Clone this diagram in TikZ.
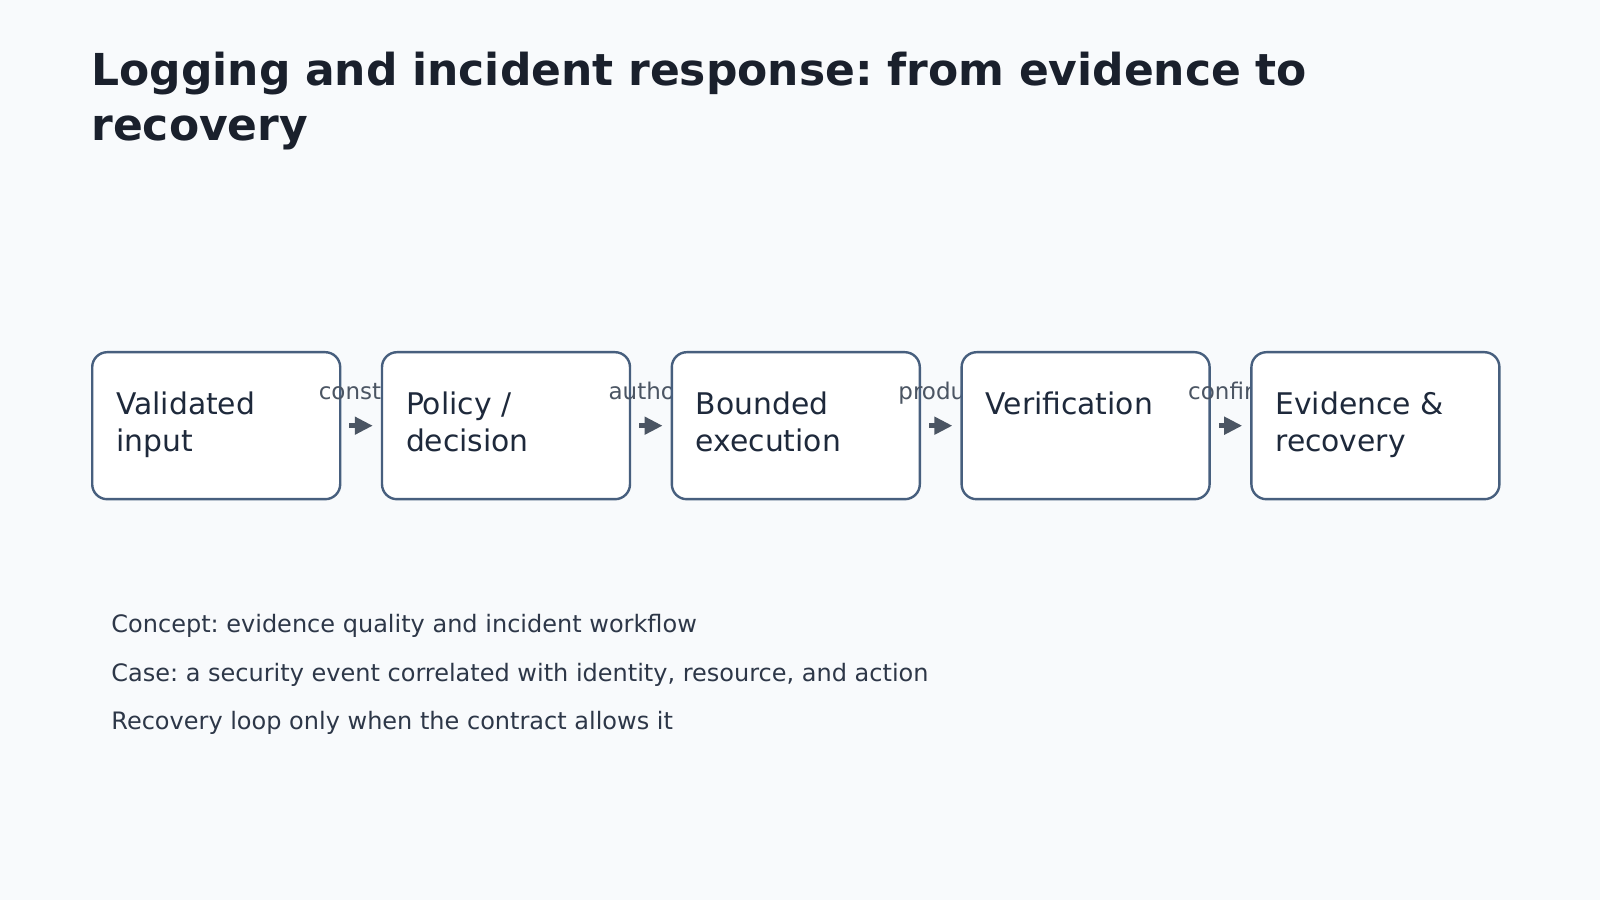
\documentclass[tikz,border=0pt]{standalone}
\usepackage{fontspec}
\setmainfont{DejaVu Sans}
\usepackage{tikz}
\usetikzlibrary{arrows.meta,shapes,positioning}

\definecolor{pagebg}{HTML}{F8FAFC}
\definecolor{titleink}{HTML}{1A202C}
\definecolor{boxline}{HTML}{475F7E}
\definecolor{boxink}{HTML}{1E293B}
\definecolor{labelink}{HTML}{4B5563}
\definecolor{noteink}{HTML}{2D3748}

\tikzset{
  stagebox/.style={draw=boxline, line width=1.2pt, fill=white, rounded corners=7.5pt,
    inner xsep=12pt, inner ysep=0pt, text width=100pt, align=left,
    text height=31pt, text depth=42.5pt, text=boxink,
    font=\fontsize{14.9}{18.7}\selectfont},
  flowlabel/.style={anchor=base west, inner sep=0pt, text=labelink,
    font=\fontsize{11.5}{13}\selectfont},
  flowarrow/.style={draw=labelink, line width=2.6pt,
    -{Triangle[length=9pt,width=8.5pt]}, shorten <=4pt, shorten >=4pt},
  notetext/.style={anchor=base west, inner sep=0pt, text=noteink,
    font=\fontsize{12}{14}\selectfont}
}

\begin{document}
\frenchspacing
\begin{tikzpicture}[x=1pt,y=1pt]

\fill [pagebg] (0,0) rectangle (800,450);
\useasboundingbox (0,0) rectangle (800,450);

\node[anchor=base west, inner sep=0pt, text width=720pt, align=left, text=titleink,
  font=\fontsize{22}{27.5}\selectfont\bfseries] (title) at (45.5,407)
  {Logging and incident response: from evidence to\\recovery};

\node[stagebox, anchor=north west] (input) at (45.5,274.5) {Validated\\input};
\node[flowlabel] (lab1) at ([xshift=-11.5pt,yshift=13.25pt]input.east) {constrains};
\node[stagebox, right=19.7pt of input] (policy) {Policy /\\decision};
\node[flowlabel] (lab2) at ([xshift=-11.5pt,yshift=13.25pt]policy.east) {authorizes};
\node[stagebox, right=19.7pt of policy] (exec) {Bounded\\execution};
\node[flowlabel] (lab3) at ([xshift=-11.5pt,yshift=13.25pt]exec.east) {produces};
\node[stagebox, right=19.7pt of exec] (verify) {Verification};
\node[flowlabel] (lab4) at ([xshift=-11.5pt,yshift=13.25pt]verify.east) {confirms};
\node[stagebox, right=19.7pt of verify] (recover) {Evidence \&\\recovery};

\draw[flowarrow] (input.east) -- (policy.west);
\draw[flowarrow] (policy.east) -- (exec.west);
\draw[flowarrow] (exec.east) -- (verify.west);
\draw[flowarrow] (verify.east) -- (recover.west);

\node[notetext] (concept) at (55.5,133.5) {Concept: evidence quality and incident workflow};
\node[notetext] (case) at (55.5,109.5) {Case: a security event correlated with identity, resource, and action};
\node[notetext] (loop) at (55.5,85.5) {Recovery loop only when the contract allows it};

\end{tikzpicture}
\end{document}
